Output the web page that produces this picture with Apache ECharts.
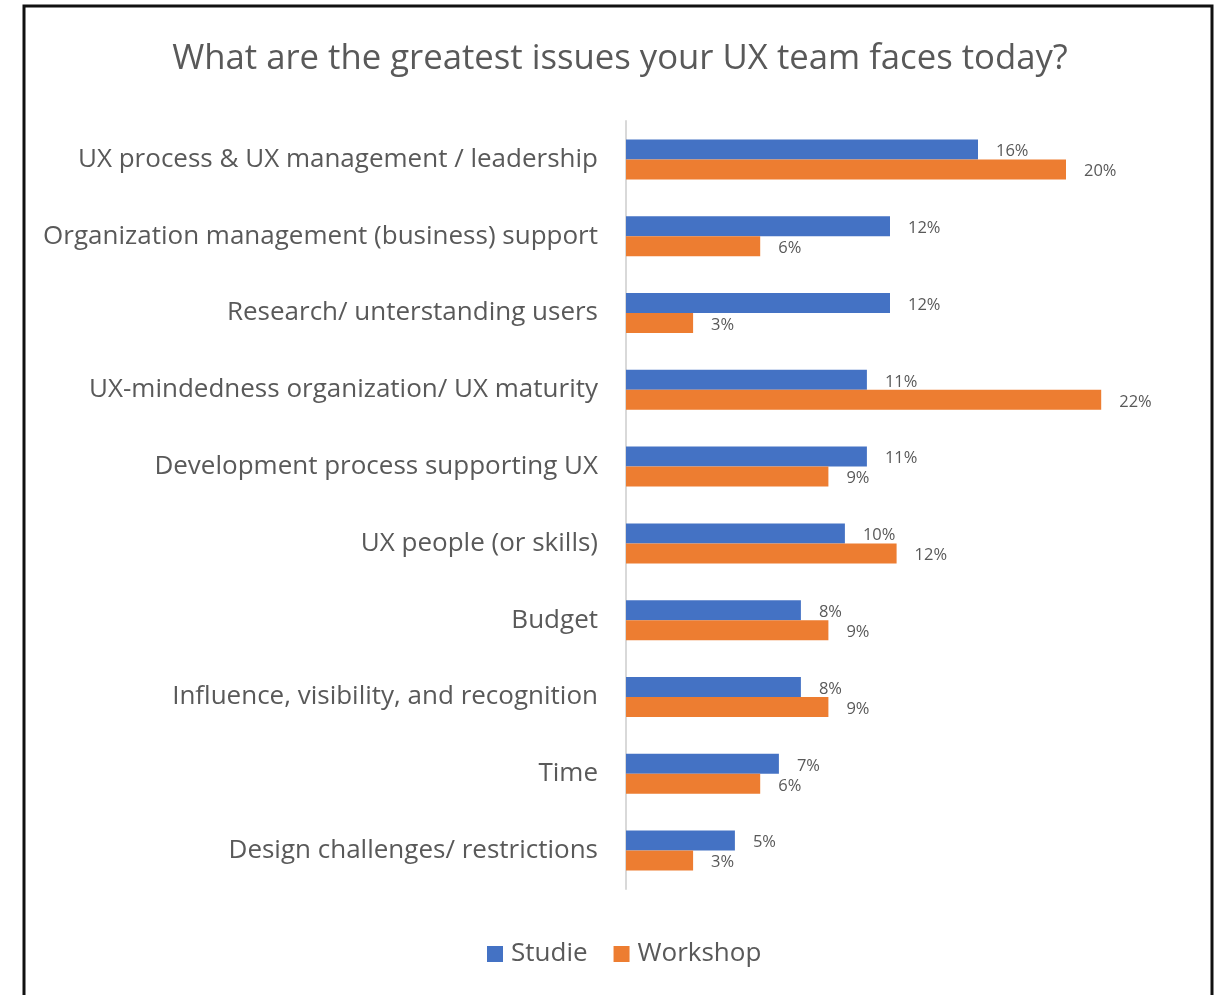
<!DOCTYPE html>
<html>
<head>
<meta charset="utf-8">
<script src="https://cdn.jsdelivr.net/npm/echarts@6/dist/echarts.min.js"></script>
<style>
html,body{margin:0;padding:0;background:#fff;}
#chart{width:1216px;height:995px;}
</style>
</head>
<body>
<div id="chart"></div>
<script>
const categories = [
  "UX process & UX management / leadership",
  "Organization management (business) support",
  "Research/ unterstanding users",
  "UX-mindedness organization/ UX maturity",
  "Development process supporting UX",
  "UX people (or skills)",
  "Budget",
  "Influence, visibility, and recognition",
  "Time",
  "Design challenges/ restrictions"
];
const studie = [16, 12, 12, 10.95, 10.95, 9.95, 7.95, 7.95, 6.95, 4.95];
const workshop = [20, 6.1, 3.05, 21.6, 9.2, 12.3, 9.2, 9.2, 6.1, 3.05];
const seriesNames = ["Studie", "Workshop"];

const textColor = '#595959';
const font = '"Open Sans", "Noto Sans", sans-serif';
const chart = echarts.init(document.getElementById('chart'), null, {renderer: 'canvas'});

const labelCfg = {
  show: true,
  position: 'right',
  distance: 18,
  color: textColor,
  fontSize: 16.5,
  fontFamily: font,
  offset: [0, 2],
  formatter: p => Math.round(p.value) + '%'
};

chart.setOption({
  backgroundColor: '#fff',
  animation: false,
  title: {
    text: 'What are the greatest issues your UX team faces today?',
    left: 615,
    textAlign: 'center',
    top: 37,
    textStyle: {color: textColor, fontSize: 34.7, fontWeight: 'normal', fontFamily: font}
  },
  graphic: [{
    type: 'rect',
    shape: {x: 24, y: 6, width: 1188, height: 1000},
    style: {fill: 'none', stroke: '#111', lineWidth: 3},
    silent: true
  }],
  legend: {
    data: seriesNames,
    left: 482,
    top: 936,
    itemWidth: 16,
    itemHeight: 16,
    itemGap: 26,
    icon: 'rect',
    textStyle: {color: textColor, fontSize: 26, fontFamily: font, padding: [0, 0, 0, 3]}
  },
  grid: {left: 626, top: 121, width: 550, height: 768},
  xAxis: {
    type: 'value',
    min: 0, max: 25,
    show: false
  },
  yAxis: {
    type: 'category',
    data: categories,
    inverse: true,
    axisLine: {show: true, lineStyle: {color: '#d9d9d9', width: 2}},
    axisTick: {show: false},
    axisLabel: {color: textColor, fontSize: 26, fontFamily: font, margin: 28}
  },
  series: [
    {name: seriesNames[0], type: 'bar', data: studie, barWidth: 20, barGap: '0%',
     itemStyle: {color: '#4472C4'}, label: labelCfg},
    {name: seriesNames[1], type: 'bar', data: workshop, barWidth: 20, barGap: '0%',
     itemStyle: {color: '#ED7D31'}, label: labelCfg}
  ]
});
</script>
</body>
</html>
